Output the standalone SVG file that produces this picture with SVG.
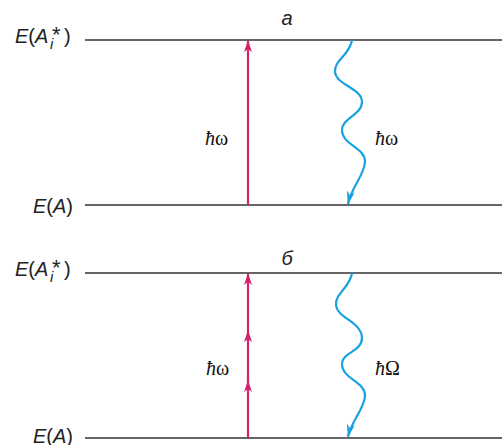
<svg xmlns="http://www.w3.org/2000/svg" width="502" height="445" viewBox="0 0 502 445">
<style>
.lvl{stroke:#333;stroke-width:1.5;fill:none}
.red{stroke:#d5236b;stroke-width:2.2;fill:none}
.blue{stroke:#17a2e0;stroke-width:2.2;fill:none}
.lab{font-family:"Liberation Sans",Arial,sans-serif;font-size:20px;fill:#222}
.sm{font-family:"Liberation Sans",Arial,sans-serif;font-size:15px;font-style:italic;fill:#222}
.st{font-family:"Liberation Sans",Arial,sans-serif;font-size:22px;fill:#222}
.it{font-style:italic}
.hb{font-family:"Liberation Serif","Times New Roman",serif;font-size:20px;fill:#111}
</style>
<defs>
<marker id="ar" viewBox="0 0 12 8" refX="11" refY="4" markerWidth="12" markerHeight="8" markerUnits="userSpaceOnUse" orient="auto">
<path d="M0,0 L12,4 L0,8 L3,4 Z" fill="#d5236b"/>
</marker>
<marker id="ab" viewBox="0 0 14 8" refX="13" refY="4" markerWidth="14" markerHeight="8" markerUnits="userSpaceOnUse" orient="auto">
<path d="M0,0 L14,4 L0,8 L4,4 Z" fill="#17a2e0"/>
</marker>
</defs>
<g id="levels">
<line class="lvl" x1="85" y1="40" x2="502" y2="40"/>
<line class="lvl" x1="85" y1="205" x2="502" y2="205"/>
<line class="lvl" x1="85" y1="273" x2="502" y2="273"/>
<line class="lvl" x1="85" y1="438" x2="502" y2="438"/>
</g>
<g id="labels">
<text class="lab it" x="287" y="25" font-size="18" text-anchor="middle">а</text>
<text class="lab it" x="287" y="265" font-size="18" text-anchor="middle">б</text>
<g id="lvl-a-top">
<text class="lab" x="15" y="43"><tspan class="it">E</tspan>(<tspan class="it">A</tspan></text>
<text class="st" x="52" y="42">*</text>
<text class="sm" x="50" y="49">i</text>
<text class="lab" x="64" y="43">)</text>
</g>
<g id="lvl-b-top">
<text class="lab" x="15" y="276"><tspan class="it">E</tspan>(<tspan class="it">A</tspan></text>
<text class="st" x="52" y="275">*</text>
<text class="sm" x="50" y="282">i</text>
<text class="lab" x="64" y="276">)</text>
</g>
<text class="lab" x="33" y="213"><tspan class="it">E</tspan>(<tspan class="it">A</tspan>)</text>
<text class="lab" x="33" y="443"><tspan class="it">E</tspan>(<tspan class="it">A</tspan>)</text>
</g>
<g id="connectors">
<line class="red" x1="248" y1="205" x2="248" y2="41" marker-end="url(#ar)"/>
<path class="blue" d="M352,40 C350,55 334,60 335,72 C336,85 362,88 362,102 C362,115 342,118 342,130 C342,145 366,148 365,162 C364,176 352,186 348,204" marker-end="url(#ab)"/>
<line class="red" x1="248" y1="438" x2="248" y2="381" marker-end="url(#ar)"/>
<line class="red" x1="248" y1="382" x2="248" y2="331" marker-end="url(#ar)"/>
<line class="red" x1="248" y1="332" x2="248" y2="274" marker-end="url(#ar)"/>
<path class="blue" d="M352,273 C350,288 335,293 336,305 C337,318 362,322 362,338 C362,352 342,352 342,364 C342,379 366,382 365,396 C364,410 352,419 348,437" marker-end="url(#ab)"/>
</g>
<g id="photon-labels">
<text class="hb" x="205" y="145"><tspan font-style="italic">ħ</tspan>ω</text>
<text class="hb" x="375" y="145"><tspan font-style="italic">ħ</tspan>ω</text>
<text class="hb" x="206" y="375"><tspan font-style="italic">ħ</tspan>ω</text>
<text class="hb" x="375" y="375"><tspan font-style="italic">ħ</tspan>Ω</text>
</g>
</svg>
